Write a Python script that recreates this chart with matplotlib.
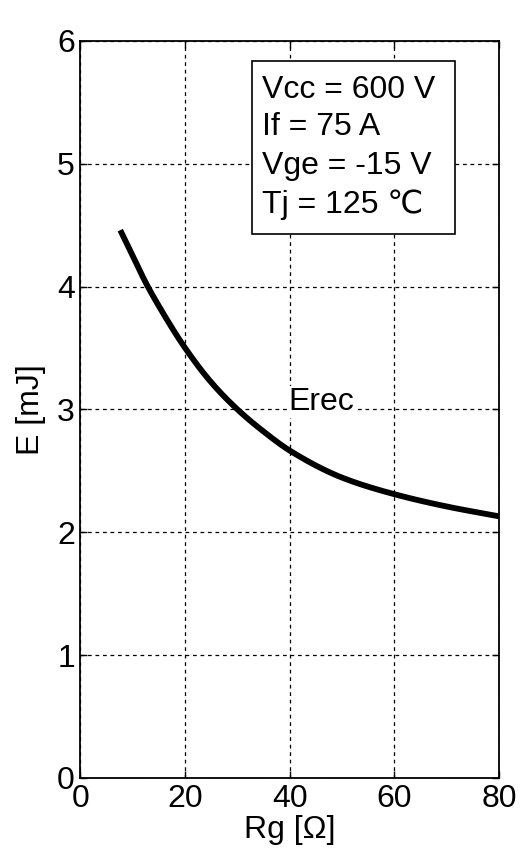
import matplotlib
matplotlib.use("Agg")
import matplotlib.pyplot as plt
from matplotlib.patches import Rectangle
import numpy as np

rg = [7.6, 10, 12.5, 15, 20, 25, 30, 35, 40, 50, 60, 70, 80]
erec = [4.46, 4.25, 4.03, 3.84, 3.50, 3.22, 3.00, 2.82, 2.665, 2.445, 2.31, 2.21, 2.13]
xticks = [0, 20, 40, 60, 80]
yticks = [0, 1, 2, 3, 4, 5, 6]
cond_lines = ["Vcc = 600 V", "If = 75 A", "Vge = -15 V", "Tj = 125 \u2103"]

fam = ['Liberation Sans', 'DejaVu Sans', 'Noto Sans CJK SC']
plt.rcParams['font.family'] = fam
FS = 23

fig = plt.figure(figsize=(5.21, 8.68), dpi=100)
ax = fig.add_axes([0.1545, 0.1037, 0.958 - 0.1545, 0.9528 - 0.1037])

# monotone piecewise cubic (PCHIP) interpolation through the read points
x = np.array(rg); y = np.array(erec)
xs = np.linspace(x[0], x[-1], 400)
h = np.diff(x); d = np.diff(y) / h
m = np.zeros_like(y)
m[0] = d[0]; m[-1] = d[-1]
for i in range(1, len(x) - 1):
    if d[i-1] * d[i] > 0:
        w1 = 2*h[i] + h[i-1]; w2 = h[i] + 2*h[i-1]
        m[i] = (w1 + w2) / (w1/d[i-1] + w2/d[i])
ys = np.empty_like(xs)
for j, xv in enumerate(xs):
    i = int(np.clip(np.searchsorted(x, xv) - 1, 0, len(x) - 2))
    t = (xv - x[i]) / h[i]
    h00 = 2*t**3 - 3*t**2 + 1; h10 = t**3 - 2*t**2 + t
    h01 = -2*t**3 + 3*t**2; h11 = t**3 - t**2
    ys[j] = h00*y[i] + h10*h[i]*m[i] + h01*y[i+1] + h11*h[i]*m[i+1]

ax.plot(xs, ys, color='black', lw=4.2, solid_capstyle='butt', zorder=3)

ax.set_xlim(0, 80)
ax.set_ylim(0, 6)
ax.set_xticks(xticks)
ax.set_yticks(yticks)
ax.tick_params(direction='in', length=5, width=1, top=True, right=True,
               labelsize=FS, pad=4)
ax.grid(True, color='black', linestyle=(0, (3, 3)), linewidth=0.9)
for s in ax.spines.values():
    s.set_linewidth(1.3)

ax.set_xlabel("Rg [\u03a9]", fontsize=FS, labelpad=1)
ax.set_ylabel("E [mJ]", fontsize=FS, labelpad=8)

ax.text(39.7, 3.06, "Erec", fontsize=FS, va='center', ha='left', zorder=4,
        bbox=dict(facecolor='white', edgecolor='none', pad=1))

# condition box
ax.add_patch(Rectangle((32.8, 4.427), 71.6 - 32.8, 5.837 - 4.427,
                       facecolor='white', edgecolor='black', linewidth=1.2,
                       zorder=5))
line_y = [5.60, 5.30, 4.98, 4.67]
for s, yy in zip(cond_lines, line_y):
    ax.text(34.6, yy, s, fontsize=FS, va='center', ha='left', zorder=6)

fig.savefig("out.png", dpi=100)
